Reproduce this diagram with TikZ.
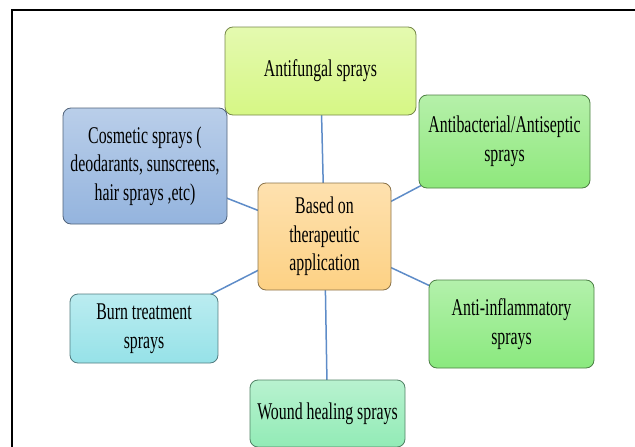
\documentclass[tikz,border=0pt]{standalone}
\usepackage{fontspec}
\setmainfont{Liberation Serif}[FakeStretch=0.66]
\usetikzlibrary{backgrounds}

\definecolor{fungi}{HTML}{D6F785}
\definecolor{bacti}{HTML}{8EE87C}
\definecolor{cosmo}{HTML}{94B4DE}
\definecolor{thera}{HTML}{FDD184}
\definecolor{burnc}{HTML}{96E2E8}
\definecolor{inflm}{HTML}{8AE97E}
\definecolor{wound}{HTML}{92EBB6}
\definecolor{linkc}{HTML}{5E8CC8}

\begin{document}
\begin{tikzpicture}[
  x=1pt, y=-1pt,
  every node/.style={rectangle, rounded corners=8pt, align=center, inner sep=0pt,
    font=\fontsize{24}{28.5}\selectfont},
  boxcol/.style={top color=#1!65!white, bottom color=#1, draw=#1!55!black, line width=0.8pt},
  link/.style={draw=linkc, line width=1.5pt}
]
\useasboundingbox (0,0) rectangle (635,447);
\draw[line width=2.5pt] (12,460) -- (12,10) -- (650,10);

\node[boxcol=thera, minimum width=133pt, minimum height=107pt] (c) at (324.5,236.5)
  {Based on\\therapeutic\\application};
\node[boxcol=fungi, minimum width=191pt, minimum height=88pt] (af) at (320.5,71)
  {Antifungal sprays};
\node[boxcol=bacti, minimum width=171pt, minimum height=93pt] (ab) at (504.5,141.5)
  {Antibacterial/Antiseptic\\sprays};
\node[boxcol=cosmo, minimum width=164pt, minimum height=116pt] (cos) at (145,166)
  {Cosmetic sprays (\\deodarants, sunscreens,\\hair sprays ,etc)};
\node[boxcol=burnc, minimum width=148pt, minimum height=69pt] (burn) at (144,328.5)
  {Burn treatment\\sprays};
\node[boxcol=inflm, minimum width=165pt, minimum height=88pt] (ai) at (511.5,324)
  {Anti-inflammatory\\sprays};
\node[boxcol=wound, minimum width=155pt, minimum height=67pt] (wh) at (327.5,413.5)
  {Wound healing sprays};

\begin{scope}[on background layer]
  \foreach \n in {af,ab,cos,burn,ai,wh}
    \draw[link] (c.center) -- (\n.center);
\end{scope}
\end{tikzpicture}
\end{document}
